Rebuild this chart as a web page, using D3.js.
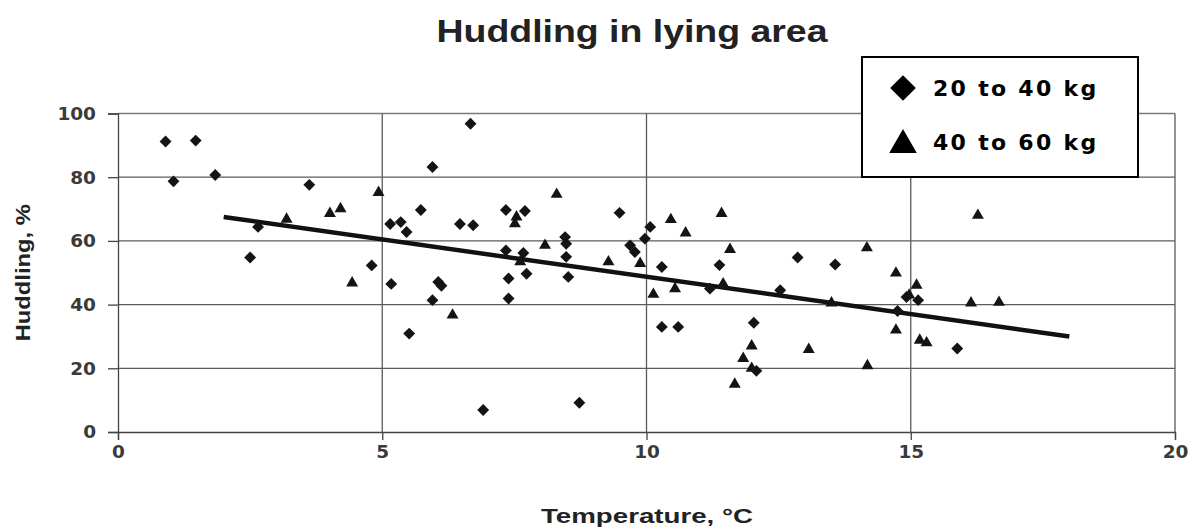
<!DOCTYPE html>
<html><head><meta charset="utf-8">
<script src="https://cdn.jsdelivr.net/npm/d3@7"></script>
<style>html,body{margin:0;padding:0;background:#fff;}svg{display:block;}</style>
</head><body><svg id="chart" width="1198" height="530"></svg>
<script>
const title = "Huddling in lying area";
const xLabel = "Temperature, °C";
const yLabel = "Huddling, %";
const xTicks = [0, 5, 10, 15, 20];
const yTicks = [0, 20, 40, 60, 80, 100];
const seriesNames = ["20 to 40 kg", "40 to 60 kg"];
// 20 to 40 kg (diamonds): [temperature, huddling %]
const light = [
 [0.90,91.2],[1.47,91.5],[1.05,78.7],[1.84,80.7],[2.65,64.4],[2.50,54.8],[3.62,77.6],
 [4.80,52.3],[5.17,46.5],[5.15,65.3],[5.35,65.9],[5.46,62.8],[5.73,69.7],[5.95,83.2],
 [6.67,96.8],[6.06,47.1],[6.12,45.9],[5.95,41.4],[5.51,30.9],[6.47,65.3],[6.72,64.9],
 [6.91,6.9],[8.73,9.2],[7.34,69.7],[7.70,69.4],[7.34,57.0],[7.67,56.2],[7.39,48.2],
 [7.73,49.7],[7.39,41.9],[8.46,61.2],[8.48,59.1],[8.48,55.0],[8.52,48.7],[9.49,68.8],
 [9.69,58.6],[9.78,56.5],[10.07,64.4],[9.97,60.7],[10.29,51.8],[10.29,33.0],[10.60,33.0],
 [11.38,52.4],[11.20,45.0],[12.53,44.5],[12.03,34.3],[12.08,19.2],[12.86,54.8],[13.57,52.6],
 [14.75,38.0],[14.92,42.4],[15.14,41.4],[15.88,26.2]
];
// 40 to 60 kg (triangles)
const heavy = [
 [3.19,66.8],[4.01,68.6],[4.21,70.1],[4.93,75.2],[4.43,46.8],[6.33,36.7],[7.54,67.5],
 [7.51,65.4],[7.61,53.4],[8.30,74.6],[8.08,58.6],[9.28,53.4],[9.88,52.9],[10.13,43.2],
 [10.54,45.0],[10.46,66.7],[10.74,62.5],[11.42,68.6],[11.58,57.3],[11.45,46.5],[11.99,27.0],
 [11.83,23.1],[11.99,20.0],[11.67,15.0],[13.07,25.9],[13.50,40.5],[14.17,57.8],[14.18,20.8],
 [14.72,49.9],[14.72,32.0],[14.97,43.0],[15.11,46.1],[15.17,28.8],[15.30,28.0],[16.27,68.0],
 [16.14,40.5],[16.67,40.7]
];
// regression line end points
const trend = [[2, 67.5], [18, 30]];

const svg = d3.select("#chart");
const W = 1198, H = 530;
const m = {left:118, right:23, top:113.5, bottom:98};
const x = d3.scaleLinear().domain([0,20]).range([m.left, W - m.right]);
const y = d3.scaleLinear().domain([0,100]).range([H - m.bottom, m.top]);

const gridCol = "#5e5a58";
svg.append("g").selectAll("line").data(yTicks.filter(d=>d>0)).join("line")
  .attr("x1", x(0)).attr("x2", x(20)).attr("y1", d=>y(d)).attr("y2", d=>y(d))
  .attr("stroke", d => d===100 ? "#6f7d8f" : gridCol).attr("stroke-width", 1.3);
svg.append("g").selectAll("line").data(xTicks.filter(d=>d>0)).join("line")
  .attr("x1", d=>x(d)).attr("x2", d=>x(d)).attr("y1", y(0)).attr("y2", y(100))
  .attr("stroke", gridCol).attr("stroke-width", 1.3);

const fontAxis = "'Liberation Sans', Arial, sans-serif";
const ya = svg.append("g").attr("transform", `translate(${x(0)},0)`)
  .call(d3.axisLeft(y).tickValues(yTicks).tickSize(10).tickPadding(12));
const xa = svg.append("g").attr("transform", `translate(0,${y(0)})`)
  .call(d3.axisBottom(x).tickValues(xTicks).tickSize(8).tickPadding(5));
[ya, xa].forEach(g => {
  g.select(".domain").attr("stroke", "#444").attr("stroke-width", 1.3);
  g.selectAll(".tick line").attr("stroke", "#444").attr("stroke-width", 1.3);
  g.selectAll(".tick text").attr("fill", "#3a3a3a").style("font-family", "'DejaVu Sans', sans-serif")
    .style("font-size", "18.5px").style("font-weight", "bold");
});

svg.append("path").datum(trend)
  .attr("d", d3.line().x(d=>x(d[0])).y(d=>y(d[1])))
  .attr("stroke", "#111").attr("stroke-width", 4.5).attr("fill", "none");

const diamond = d3.symbol().type(d3.symbolDiamond2).size(90);
const tri = d3.symbol().type(d3.symbolTriangle).size(62);
svg.append("g").selectAll("path").data(light).join("path")
  .attr("d", diamond).attr("transform", d=>`translate(${x(d[0])},${y(d[1])})`).attr("fill", "#141414");
svg.append("g").selectAll("path").data(heavy).join("path")
  .attr("d", tri).attr("transform", d=>`translate(${x(d[0])},${y(d[1])})`).attr("fill", "#141414");

svg.append("text").attr("x", 632).attr("y", 42).attr("text-anchor", "middle")
  .attr("textLength", 391).attr("lengthAdjust", "spacingAndGlyphs")
  .style("font-family", fontAxis).style("font-weight", "bold").style("font-size", "32px")
  .attr("fill", "#222").text(title);
svg.append("text").attr("x", 647).attr("y", 523).attr("text-anchor", "middle")
  .attr("textLength", 212).attr("lengthAdjust", "spacingAndGlyphs")
  .style("font-family", fontAxis).style("font-weight", "bold").style("font-size", "20px")
  .attr("fill", "#222").text(xLabel);
svg.append("text").attr("transform", `translate(30,${y(50)}) rotate(-90)`).attr("text-anchor", "middle")
  .attr("textLength", 137).attr("lengthAdjust", "spacingAndGlyphs")
  .style("font-family", fontAxis).style("font-weight", "bold").style("font-size", "21px")
  .attr("fill", "#222").text(yLabel);

const lg = svg.append("g");
lg.append("rect").attr("x", 862).attr("y", 57).attr("width", 276).attr("height", 120)
  .attr("fill", "#fff").attr("stroke", "#000").attr("stroke-width", 2);
const legSyms = [d3.symbol().type(d3.symbolDiamond2).size(420), d3.symbol().type(d3.symbolTriangle).size(330)];
seriesNames.forEach((s, i) => {
  const cy = 88 + i * 54;
  lg.append("path").attr("d", legSyms[i]).attr("transform", `translate(903,${cy + (i?3:0)})`).attr("fill", "#000");
  lg.append("text").attr("x", 933).attr("y", cy + 8)
    .style("font-family", "'DejaVu Sans', sans-serif").style("font-weight", "bold")
    .style("font-size", "22px").style("letter-spacing", "2.3px").attr("fill", "#000").text(s);
});
</script></body></html>
